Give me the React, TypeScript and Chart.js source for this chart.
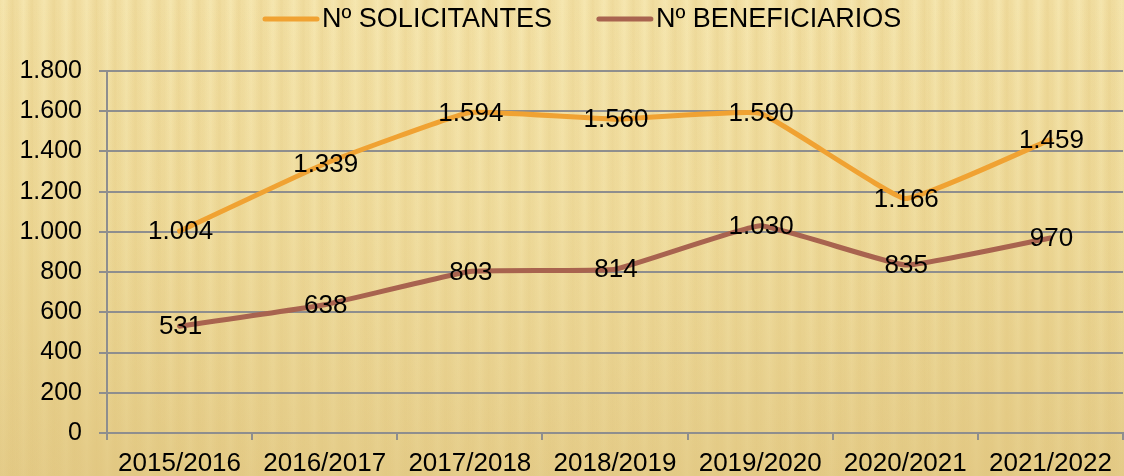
import React, { useEffect, useRef } from "react";
import { Chart, registerables } from "chart.js";

Chart.register(...registerables);

const categories = ["2015/2016", "2016/2017", "2017/2018", "2018/2019", "2019/2020", "2020/2021", "2021/2022"];
const solicitantes = [1004, 1339, 1594, 1560, 1590, 1166, 1459];
const beneficiarios = [531, 638, 803, 814, 1030, 835, 970];
const seriesLabels = ["Nº SOLICITANTES", "Nº BENEFICIARIOS"];
const seriesColors = ["#F0A232", "#A8634F"];

const FONT = "'Liberation Sans', Arial, sans-serif";

function fmt(v: number): string {
  return String(Math.round(v)).replace(/\B(?=(\d{3})+(?!\d))/g, ".");
}

const backgroundPlugin = {
  id: "stripedBg",
  beforeDraw(chart: any) {
    const { ctx, width, height } = chart;
    ctx.save();
    const base = ctx.createLinearGradient(0, 0, 0, height);
    base.addColorStop(0, "#F0DC9E");
    base.addColorStop(0.5, "#EBD593");
    base.addColorStop(1, "#E3C985");
    ctx.fillStyle = base;
    ctx.fillRect(0, 0, width, height);
    // vertical stripes
    const widths = [21, 19, 23, 20, 22, 18, 21, 24, 19, 20];
    let x = -4;
    let i = 0;
    while (x < width) {
      const w = widths[i % widths.length];
      const g = ctx.createLinearGradient(x, 0, x + w, 0);
      g.addColorStop(0, "rgba(255,248,205,0)");
      g.addColorStop(0.35, "rgba(255,248,205,0.32)");
      g.addColorStop(0.55, "rgba(255,248,205,0.1)");
      g.addColorStop(0.8, "rgba(200,160,70,0.08)");
      g.addColorStop(1, "rgba(255,248,205,0)");
      ctx.fillStyle = g;
      ctx.fillRect(x, 0, w, height);
      x += w;
      i++;
    }
    // wash out stripes toward bottom
    const wash = ctx.createLinearGradient(0, 0, 0, height);
    wash.addColorStop(0, "rgba(236,214,145,0)");
    wash.addColorStop(0.4, "rgba(236,214,145,0.35)");
    wash.addColorStop(1, "rgba(226,200,130,0.8)");
    ctx.fillStyle = wash;
    ctx.fillRect(0, 0, width, height);
    // vignette
    const rg = ctx.createRadialGradient(width * 0.45, height * 0.3, 50, width * 0.5, height * 0.4, width * 0.75);
    rg.addColorStop(0, "rgba(255,245,200,0.12)");
    rg.addColorStop(0.6, "rgba(255,245,200,0)");
    rg.addColorStop(1, "rgba(180,140,60,0.15)");
    ctx.fillStyle = rg;
    ctx.fillRect(0, 0, width, height);
    ctx.restore();
  },
};

const dataLabelPlugin = {
  id: "dataLabels",
  afterDatasetsDraw(chart: any) {
    const { ctx } = chart;
    ctx.save();
    ctx.font = `26px ${FONT}`;
    ctx.fillStyle = "#000000";
    ctx.textAlign = "center";
    ctx.textBaseline = "middle";
    chart.data.datasets.forEach((ds: any, di: number) => {
      const meta = chart.getDatasetMeta(di);
      meta.data.forEach((pt: any, i: number) => {
        ctx.fillText(fmt(ds.data[i]), pt.x + 1, pt.y + 1);
      });
    });
    ctx.restore();
  },
};

const legendPlugin = {
  id: "customLegend",
  afterDraw(chart: any) {
    const { ctx } = chart;
    ctx.save();
    ctx.font = `27px ${FONT}`;
    ctx.textBaseline = "middle";
    ctx.textAlign = "left";
    let x = 265;
    const y = 19;
    chart.data.datasets.forEach((ds: any) => {
      ctx.strokeStyle = ds.borderColor;
      ctx.lineWidth = 5;
      ctx.lineCap = "round";
      ctx.beginPath();
      ctx.moveTo(x, y);
      ctx.lineTo(x + 52, y);
      ctx.stroke();
      x += 57;
      ctx.fillStyle = "#000000";
      ctx.fillText(ds.label, x, y + 1);
      x += ctx.measureText(ds.label).width + 47;
    });
    ctx.restore();
  },
};

export default function App() {
  const canvasRef = useRef<HTMLCanvasElement | null>(null);

  useEffect(() => {
    document.body.style.margin = "0";
    const canvas = canvasRef.current;
    if (!canvas) return;
    const gridColor = "#8E8E8E";
    const chart = new Chart(canvas, {
      type: "line",
      data: {
        labels: categories,
        datasets: [
          {
            label: seriesLabels[0],
            data: solicitantes,
            borderColor: seriesColors[0],
            backgroundColor: seriesColors[0],
            borderWidth: 5,
            pointRadius: 0,
            tension: 0.1,
            borderCapStyle: "round",
            borderJoinStyle: "round",
          },
          {
            label: seriesLabels[1],
            data: beneficiarios,
            borderColor: seriesColors[1],
            backgroundColor: seriesColors[1],
            borderWidth: 5,
            pointRadius: 0,
            tension: 0.1,
            borderCapStyle: "round",
            borderJoinStyle: "round",
          },
        ],
      },
      options: {
        animation: false,
        responsive: true,
        maintainAspectRatio: false,
        layout: { padding: { top: 71, right: 1, left: 0, bottom: 0 } },
        plugins: {
          legend: { display: false },
          tooltip: { enabled: false },
          title: { display: false },
        },
        scales: {
          x: {
            type: "category",
            offset: true,
            grid: {
              offset: true,
              drawOnChartArea: false,
              drawTicks: true,
              tickLength: 7,
              color: gridColor,
              lineWidth: 2,
            },
            border: { display: true, color: gridColor, width: 2 },
            ticks: {
              color: "#000000",
              font: { family: FONT, size: 26 },
              padding: 8,
              maxRotation: 0,
              autoSkip: false,
            },
            afterFit(scale: any) {
              scale.height = 43;
            },
          },
          y: {
            min: 0,
            max: 1800,
            ticks: {
              stepSize: 200,
              color: "#000000",
              font: { family: FONT, size: 25 },
              padding: 17,
              callback: (v: any) => fmt(Number(v)),
            },
            grid: {
              color: gridColor,
              lineWidth: 2,
              tickLength: 8,
              drawTicks: true,
            },
            border: { display: true, color: gridColor, width: 2 },
            afterFit(scale: any) {
              scale.width = 107;
            },
          },
        },
      },
      plugins: [backgroundPlugin, dataLabelPlugin, legendPlugin],
    });
    return () => chart.destroy();
  }, []);

  return (
    <div style={{ width: 1124, height: 476, position: "relative" }}>
      <canvas ref={canvasRef} />
    </div>
  );
}
